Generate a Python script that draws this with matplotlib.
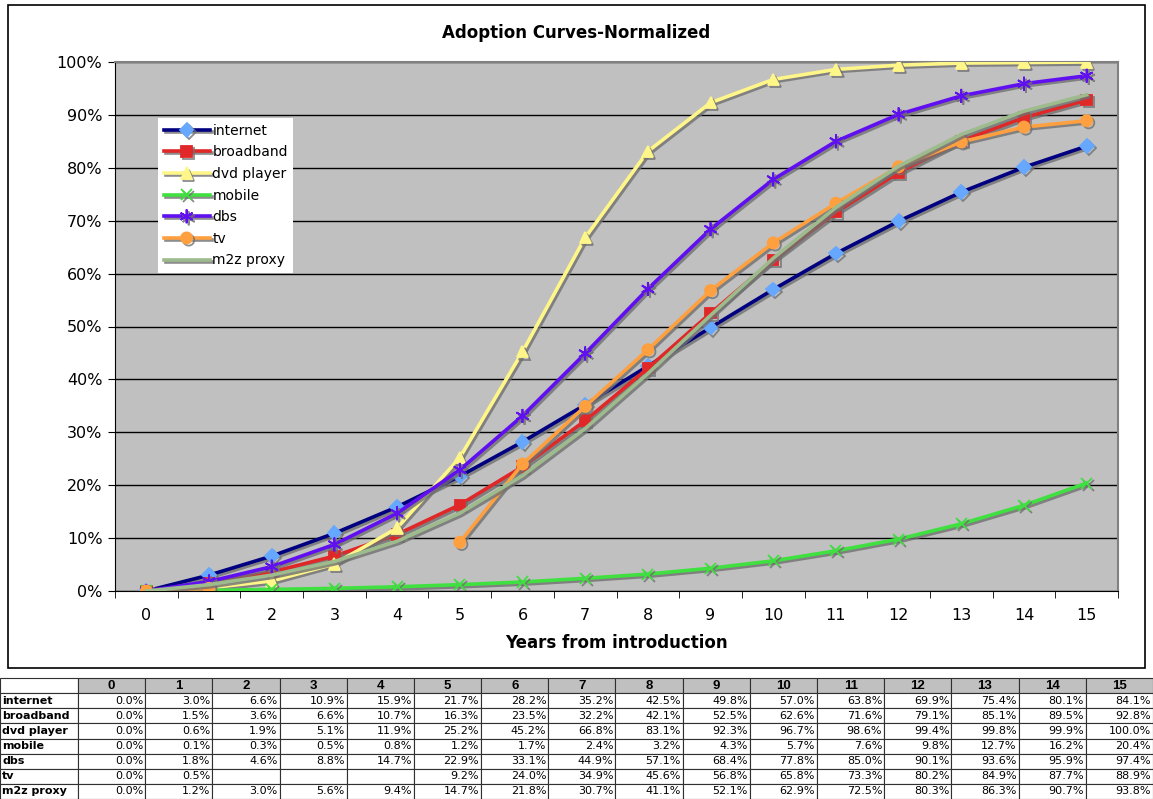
import numpy as np
import matplotlib
matplotlib.use("Agg")
import matplotlib.pyplot as plt
import matplotlib.patheffects as pe
from matplotlib.patches import Rectangle

years = list(range(16))
series_names = ["internet", "broadband", "dvd player", "mobile", "dbs", "tv", "m2z proxy"]

internet = [0.0, 3.0, 6.6, 10.9, 15.9, 21.7, 28.2, 35.2, 42.5, 49.8, 57.0, 63.8, 69.9, 75.4, 80.1, 84.1]
broadband = [0.0, 1.5, 3.6, 6.6, 10.7, 16.3, 23.5, 32.2, 42.1, 52.5, 62.6, 71.6, 79.1, 85.1, 89.5, 92.8]
dvd_player = [0.0, 0.6, 1.9, 5.1, 11.9, 25.2, 45.2, 66.8, 83.1, 92.3, 96.7, 98.6, 99.4, 99.8, 99.9, 100.0]
mobile = [0.0, 0.1, 0.3, 0.5, 0.8, 1.2, 1.7, 2.4, 3.2, 4.3, 5.7, 7.6, 9.8, 12.7, 16.2, 20.4]
dbs = [0.0, 1.8, 4.6, 8.8, 14.7, 22.9, 33.1, 44.9, 57.1, 68.4, 77.8, 85.0, 90.1, 93.6, 95.9, 97.4]
tv = [0.0, 0.5, None, None, None, 9.2, 24.0, 34.9, 45.6, 56.8, 65.8, 73.3, 80.2, 84.9, 87.7, 88.9]
m2z_proxy = [0.0, 1.2, 3.0, 5.6, 9.4, 14.7, 21.8, 30.7, 41.1, 52.1, 62.9, 72.5, 80.3, 86.3, 90.7, 93.8]

all_series = [internet, broadband, dvd_player, mobile, dbs, tv, m2z_proxy]

# line color, marker, marker face color, marker size
styles = [
    ("#000080", "D", "#66A8FF", 7),
    ("#E02828", "s", "#E02828", 7.5),
    ("#FFF68A", "^", "#FFF68A", 8),
    ("#40E040", "x", "#40E040", 8),
    ("#6010F0", (6, 2, 0), "#6010F0", 10),
    ("#FFA040", "o", "#FFA040", 8),
    ("#9DBB8C", None, None, 0),
]

fig = plt.figure(figsize=(11.53, 7.99), dpi=100)

# chart border
fig.patches.append(Rectangle((8 / 1153, 1 - 668 / 799), 1137 / 1153, 663 / 799,
                             transform=fig.transFigure, fill=False,
                             edgecolor="black", linewidth=1.2))

ax = fig.add_axes([115 / 1153, 1 - 591 / 799, 1003 / 1153, 529 / 799])
ax.set_facecolor("#C0C0C0")

shadow = [pe.SimpleLineShadow(offset=(1.5, -1.5), shadow_color="#707070", alpha=0.8), pe.Normal()]

for name, vals, (lc, mk, mfc, ms) in zip(series_names, all_series, styles):
    y = np.array([np.nan if v is None else v for v in vals], dtype=float) / 100
    ax.plot(years, y, color=lc, linewidth=2.6, marker=mk, markersize=ms,
            markerfacecolor=mfc, markeredgecolor=mfc, markeredgewidth=1.3,
            label=name, path_effects=shadow, zorder=3)

ax.set_xlim(-0.5, 15.5)
ax.set_ylim(0, 1)
ax.set_yticks(np.arange(0, 1.01, 0.1))
ax.set_yticklabels([f"{int(round(v * 100))}%" for v in np.arange(0, 1.01, 0.1)], fontsize=11.5)
ax.set_xticks(years)
ax.set_xticklabels([str(y) for y in years], fontsize=11.5)
ax.set_xticks(np.arange(-0.5, 15.6, 1), minor=True)
ax.tick_params(axis="x", which="major", length=0, pad=12)
ax.tick_params(axis="x", which="minor", length=5, direction="out")
ax.tick_params(axis="y", length=5, direction="out", pad=4)
ax.grid(axis="y", color="black", linewidth=1, zorder=1)
ax.set_axisbelow(True)
for s in ["top", "right"]:
    ax.spines[s].set_color("#808080")
    ax.spines[s].set_linewidth(1.5)
ax.spines["left"].set_color("black")
ax.spines["bottom"].set_color("black")

fig.text(0.5, 1 - 33 / 799, "Adoption Curves-Normalized", fontsize=12, fontweight="bold",
         ha="center", va="center")
ax.set_xlabel("Years from introduction", fontsize=12, fontweight="bold", labelpad=8)

leg = ax.legend(loc="upper left", bbox_to_anchor=(0.043, 0.894), borderaxespad=0,
                fontsize=10, handlelength=3.3, labelspacing=0.55, handletextpad=0.2,
                fancybox=False, framealpha=1, edgecolor="white")
leg.get_frame().set_linewidth(0)

# data table
tax = fig.add_axes([0, 0, 1, 121 / 799])
tax.axis("off")
cell_text = [[""] + [str(y) for y in years]]
for name, vals in zip(series_names, all_series):
    cell_text.append([name] + ["" if v is None else f"{v:.1f}%" for v in vals])
col_w = [78 / 1153] + [67.2 / 1153] * 16
tbl = tax.table(cellText=cell_text, colWidths=col_w, bbox=[0, 0, 1, 1])
tbl.auto_set_font_size(False)
for (r, c), cell in tbl.get_celld().items():
    cell.set_linewidth(0.8)
    cell.set_edgecolor("#303030")
    txt = cell.get_text()
    txt.set_fontsize(8)
    if r == 0:
        if c > 0:
            cell.set_facecolor("#C0C0C0")
        txt.set_fontfamily("Liberation Sans")
        txt.set_fontweight("bold")
        txt.set_fontsize(9.5)
        cell.set_text_props(ha="center")
    elif c == 0:
        txt.set_fontweight("bold")
        cell._loc = "left"
        cell.PAD = 0.03
        cell.set_text_props(ha="left")
    else:
        cell._loc = "right"
        cell.PAD = 0.03
        cell.set_text_props(ha="right")

fig.savefig("out.png", dpi=100)
